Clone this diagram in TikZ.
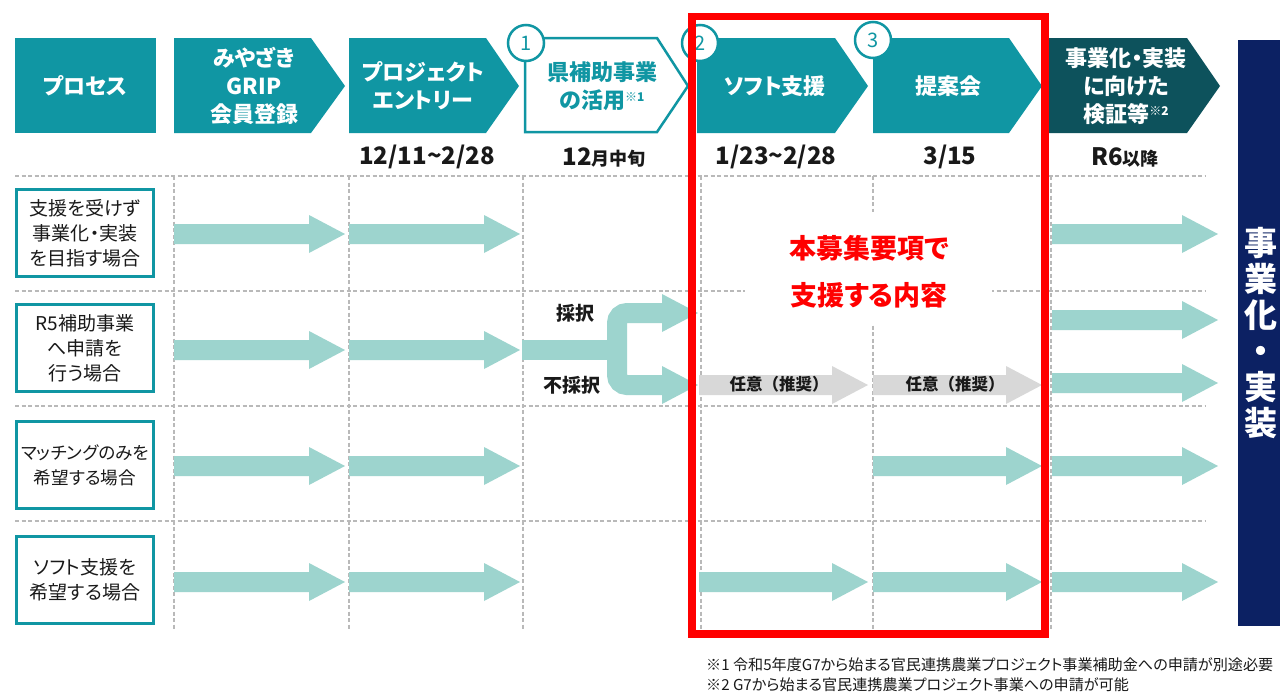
\documentclass[tikz,border=0pt]{standalone}
\usepackage{fontspec}
\setmainfont{Noto Sans CJK JP}[RawFeature=+palt]
\definecolor{cteal}{RGB}{16,150,163}
\definecolor{cdark}{RGB}{13,82,92}
\definecolor{cnavy}{RGB}{12,33,99}
\definecolor{clight}{RGB}{157,212,206}
\definecolor{cgrey}{RGB}{216,216,216}
\definecolor{cgrid}{RGB}{185,185,185}
\definecolor{ctext}{RGB}{25,25,25}
\definecolor{cred}{RGB}{255,0,0}
\newcommand\hfnt{\fontsize{22}{28}\selectfont\bfseries}
\newcommand\dfnt{\fontsize{24}{26}\selectfont\bfseries}
\newcommand\sfnt{\fontsize{16.5}{20}\selectfont\bfseries\addfontfeature{RawFeature=-palt}}
\newcommand\rfnt{\fontsize{19}{25}\selectfont}
\newcommand\supm[1]{{\fontsize{12}{12}\selectfont\raisebox{7pt}{#1}}}
\newcommand\fatarrow[4]{%
  \fill[#4] (#1,#3-10) -- (#2-36,#3-10) -- (#2-36,#3-19) -- (#2,#3) -- (#2-36,#3+19) -- (#2-36,#3+10) -- (#1,#3+10) -- cycle;}
\newcommand\chev[4]{%
  \path[#4] (#1,38) -- (#2,38) -- (#3,86) -- (#2,133) -- (#1,133) -- cycle;}
\tikzset{
  gridline/.style={draw=cgrid, line width=1.2pt, dash pattern=on 4pt off 2.5pt},
  hdr/.style={text=white, font=\hfnt, align=center, inner sep=0pt},
  datelbl/.style={text=ctext, font=\dfnt, inner sep=0pt},
  rowbox/.style={draw=cteal, line width=3pt, fill=white, minimum width=137pt, minimum height=87pt, align=center, font=\rfnt, text=ctext, inner sep=0pt},
  numc/.style={circle, draw=cteal, fill=white, line width=2.5pt, minimum size=36pt, inner sep=0pt, text=cteal, font=\fontsize{20}{20}\selectfont},
  branchlbl/.style={text=ctext, font=\fontsize{19}{22}\selectfont\bfseries, inner sep=0pt},
  optlbl/.style={text=ctext, font=\sfnt, inner sep=0pt},
  redlbl/.style={text=cred, font=\fontsize{27}{30}\selectfont\bfseries, inner sep=0pt},
  note/.style={text=ctext, font=\fontsize{15.1}{17}\selectfont, anchor=west, inner sep=0pt}
}
\begin{document}
\begin{tikzpicture}[x=1pt,y=-1pt]
\useasboundingbox (0,0) rectangle (1280,691);
\fill[white] (0,0) rectangle (1280,691);

% grid
\foreach \yy in {176,291,406,521} {\draw[gridline] (15,\yy) -- (1205,\yy);}
\foreach \xx in {174,349,523,701,873,1051} {\draw[gridline] (\xx,176) -- (\xx,630);}

% white patch behind red text
\fill[white] (745,212) rectangle (992,325);

% row 1
\fatarrow{174}{345}{234}{clight}
\fatarrow{349}{520}{234}{clight}
\fatarrow{1052}{1218}{234}{clight}
% row 2
\fatarrow{174}{345}{350}{clight}
\fatarrow{349}{520}{350}{clight}
\fill[clight] (522,340) rectangle (618,360);
\draw[clight, line width=20pt, rounded corners=10pt] (665,313) -- (617,313) -- (617,385) -- (665,385);
\fill[clight] (662,294) -- (698,313) -- (662,332) -- cycle;
\fill[clight] (662,366) -- (698,385) -- (662,404) -- cycle;
\fatarrow{699}{868}{385}{cgrey}
\fatarrow{873}{1042}{385}{cgrey}
\fatarrow{1052}{1218}{320}{clight}
\fatarrow{1052}{1218}{383}{clight}
% row 3
\fatarrow{174}{345}{466}{clight}
\fatarrow{349}{520}{466}{clight}
\fatarrow{873}{1042}{466}{clight}
\fatarrow{1052}{1218}{466}{clight}
% row 4
\fatarrow{174}{345}{582}{clight}
\fatarrow{349}{520}{582}{clight}
\fatarrow{699}{868}{582}{clight}
\fatarrow{873}{1042}{582}{clight}
\fatarrow{1052}{1218}{582}{clight}

\node[branchlbl] (saitaku) at (575,313) {採択};
\node[branchlbl] (fusaitaku) at (572,385) {不採択};
\node[optlbl] (opt1) at (779,384) {任意（推奨）};
\node[optlbl] (opt2) at (955,384) {任意（推奨）};

% header shapes
\fill[cteal] (15,38) rectangle (156,133);
\chev{174}{311}{345}{fill=cteal}
\chev{349}{486}{519}{fill=cteal}
\path[draw=cteal, fill=white, line width=2.5pt] (525,38) -- (657,38) -- (688,86) -- (657,132) -- (525,132) -- cycle;
\chev{697}{835}{868}{fill=cteal}
\chev{873}{1009}{1042}{fill=cteal}
\chev{1049}{1187}{1220}{fill=cdark}

\node[hdr] (h0) at (85,86) {プロセス};
\node[hdr] (h1) at (254,86) {みやざき\\GRIP\\会員登録};
\node[hdr] (h2) at (423,86) {プロジェクト\\エントリー};
\node[hdr, text=cteal] (h3) at (602,86) {県補助事業\\の活用\supm{※1}};
\node[hdr] (h4) at (775,86) {ソフト支援};
\node[hdr] (h5) at (948,86) {提案会};
\node[hdr] (h6) at (1126,86) {事業化・実装\\に向けた\\検証等\supm{※2}};

\node[numc] (c1) at (526,43) {1};
\node[numc] (c2) at (700,43) {2};
\node[numc] (c3) at (873,40) {3};

% dates
\node[datelbl] (d1) at (427,157) {12/11\string~2/28};
\node[datelbl] (d2) at (604,157) {12{\fontsize{18}{20}\selectfont 月中旬}};
\node[datelbl] (d3) at (776,157) {1/23\string~2/28};
\node[datelbl] (d4) at (950,157) {3/15};
\node[datelbl] (d5) at (1125,157) {R6{\fontsize{18}{20}\selectfont 以降}};

% row labels
\node[rowbox] (r1) at (85,233) {支援を受けず\\事業化・実装\\を目指す場合};
\node[rowbox] (r2) at (85,348) {R5補助事業\\へ申請を\\行う場合};
\node[rowbox, font=\fontsize{17.6}{25}\selectfont] (r3) at (85,465) {マッチングのみを\\希望する場合};
\node[rowbox] (r4) at (85,580) {ソフト支援を\\希望する場合};

% navy bar
\fill[cnavy] (1238,40) rectangle (1280,626);
\node[text=white, font=\fontsize{33}{36}\selectfont\bfseries, align=center, inner sep=0pt] (nv) at (1261,333) {事\\業\\化\\・\\実\\装};

% red frame
\draw[cred, line width=7.5pt] (692,16.5) rectangle (1045,634);
\node[redlbl] (red1) at (869,248) {本募集要項で};
\node[redlbl] (red2) at (869,295) {支援する内容};

% notes
\node[note] (n1) at (706,665) {※1 令和5年度G7から始まる官民連携農業プロジェクト事業補助金への申請が別途必要};
\node[note] (n2) at (706,685) {※2 G7から始まる官民連携農業プロジェクト事業への申請が可能};
\end{tikzpicture}
\end{document}
